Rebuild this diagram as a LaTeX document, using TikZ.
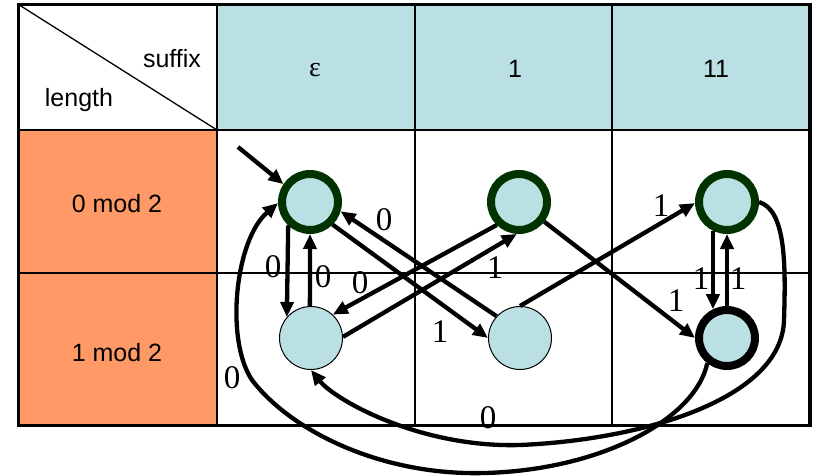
\documentclass[tikz,border=0pt]{standalone}
\usepackage{fontspec}
\setmainfont{Liberation Sans}
\newfontfamily\seriffont{Liberation Serif}
\usetikzlibrary{arrows.meta}
\definecolor{cellblue}{HTML}{BBE0E3}
\definecolor{cellorange}{HTML}{FF9966}
\definecolor{ringgreen}{HTML}{003300}
\tikzset{
  accstate/.style={circle, draw=ringgreen, line width=8pt, fill=cellblue, minimum size=56pt, inner sep=0pt},
  finstate/.style={circle, draw=black, line width=8pt, fill=cellblue, minimum size=56pt, inner sep=0pt},
  ordstate/.style={circle, draw=black, line width=1pt, fill=cellblue, minimum size=63pt, inner sep=0pt},
  tr/.style={line width=4.3pt, -{Triangle[length=15pt,width=13pt]}},
  lbl/.style={font=\seriffont\fontsize{33}{33}\selectfont, inner sep=0pt},
  txt/.style={font=\fontsize{25}{30}\selectfont, inner sep=0pt, anchor=base},
  inner line/.style={line width=2.7pt},
}
\begin{document}
\begin{tikzpicture}[x=1pt,y=-1pt]
\useasboundingbox (0,0) rectangle (817,476);
% table fills
\fill[cellblue] (217,4.5) rectangle (810,130);
\fill[cellorange] (18.5,130) rectangle (217,425.5);
% table lines
\draw[inner line] (18.5,130) -- (810,130);
\draw[inner line] (18.5,273) -- (810,273);
\draw[inner line] (217,4.5) -- (217,425.5);
\draw[inner line] (415,4.5) -- (415,425.5);
\draw[inner line] (612,4.5) -- (612,425.5);
\draw[line width=1.3pt] (18.5,4.5) -- (217,130);
\draw[line width=3.5pt] (18.5,4.5) rectangle (810,425.5);
% table texts
\node[txt] (suf) at (172,68) {suffix};
\node[txt] (len) at (79,107) {length};
\node[txt] (r0) at (117,212) {0 mod 2};
\node[txt] (r1) at (117,361) {1 mod 2};
\node[txt, font=\seriffont\fontsize{28}{30}\selectfont] (h0) at (315,77) {ε};
\node[txt] (h1) at (515,78) {1};
\node[txt] (h2) at (716,78) {11};
% states
\node[accstate] (A) at (310,202) {};
\node[accstate] (B) at (519,202) {};
\node[accstate] (C) at (727,202) {};
\node[ordstate] (D) at (311,338) {};
\node[ordstate] (E) at (520,338) {};
\node[finstate] (F) at (727,338) {};
% transitions
\coordinate (init) at (238,147);
\draw[tr] (init) -- (A.146);
\draw[tr] (A.227) -- (D.139);
\draw[tr] (D.92) -- (A.270);
\draw[tr] (B.226) -- (D.47);
\draw[tr] (D.2) -- (B.266);
\draw[tr] (A.315) -- (E.180);
\draw[tr] (E.137) -- (A.343);
\draw[tr] (E.90) -- (C.182);
\draw[tr] (B.322) -- (F.180);
\draw[tr] (C.244) -- (F.116);
\draw[tr] (F.90) -- (C.270);
\draw[tr] (C.east) .. controls (785,210) and (786,260) .. (784,320)
  .. controls (782,400) and (640,440) .. (520,445)
  .. controls (420,448) and (335,400) .. (D.south);
\draw[tr] (F.232) .. controls (695,420) and (600,470) .. (485,473)
  .. controls (380,476) and (290,430) .. (252,380)
  .. controls (225,340) and (235,240) .. (A.182);
% labels
\node[lbl] (la) at (273,267) {0};
\node[lbl] (lb) at (323,277) {0};
\node[lbl] (lc) at (360,283) {0};
\node[lbl] (ld) at (384,220) {0};
\node[lbl] (le) at (495,268) {1};
\node[lbl] (lf) at (440,332) {1};
\node[lbl] (lg) at (661,206) {1};
\node[lbl] (lh) at (676,301) {1};
\node[lbl] (li) at (701,279) {1};
\node[lbl] (lj) at (738,279) {1};
\node[lbl] (lk) at (232,378) {0};
\node[lbl] (ll) at (488,418) {0};
\end{tikzpicture}
\end{document}
